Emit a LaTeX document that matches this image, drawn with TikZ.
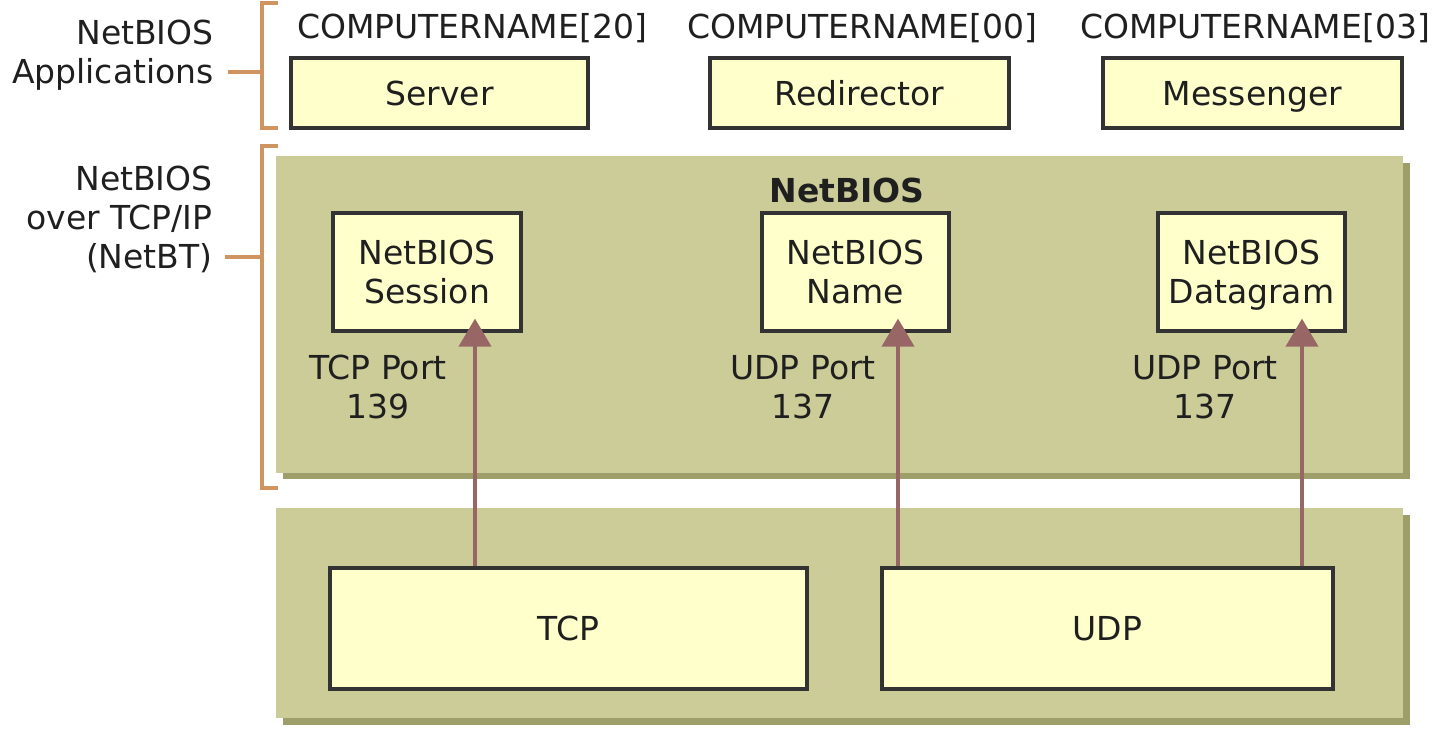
\documentclass[tikz,border=0pt]{standalone}
\usepackage{fontspec}
\setmainfont{DejaVu Sans}
\usetikzlibrary{arrows.meta}
\definecolor{panel}{HTML}{CCCC99}
\definecolor{pshadow}{HTML}{9E9E6A}
\definecolor{boxfill}{HTML}{FFFFCC}
\definecolor{boxline}{HTML}{333333}
\definecolor{arrowc}{HTML}{996666}
\definecolor{brack}{HTML}{CF9460}
\tikzset{
  lbl/.style={font=\fontsize{16.5}{19.5}\selectfont, text=black!88, inner sep=0pt},
  ybox/.style={draw=boxline, line width=1.6pt, fill=boxfill, inner sep=0pt, align=center,
     font=\fontsize{16.5}{19.5}\selectfont, text=black!88},
  onebox/.style={ybox, text height=12pt, text depth=0pt},
  panelbox/.style={fill=panel},
  shadowbox/.style={fill=pshadow},
  bracketline/.style={draw=brack, line width=2pt},
  arr/.style={draw=arrowc, line width=2pt, -{Triangle[width=16pt,length=14pt]}, shorten >=-7pt},
}
\begin{document}
\begin{tikzpicture}[x=0.5pt,y=-0.5pt]
\useasboundingbox (0,0) rectangle (1440,740);
% panels with shadows
\fill[shadowbox] (283,163) rectangle (1410,479);
\fill[panelbox] (276,156) rectangle (1403,473);
\fill[shadowbox] (283,515) rectangle (1410,725);
\fill[panelbox] (276,508) rectangle (1403,718);

% brackets
\draw[bracketline] (278,3) -- (262,3) -- (262,128) -- (278,128);
\draw[bracketline] (228,72) -- (262,72);
\draw[bracketline] (278,146) -- (262,146) -- (262,488) -- (278,488);
\draw[bracketline] (225,257) -- (262,257);

% left labels
\node[lbl, anchor=east, align=right] (lapp) at (214,55) {NetBIOS\\Applications};
\node[lbl, anchor=east, align=right] (lnbt) at (213,219) {NetBIOS\\over TCP/IP\\(NetBT)};

% top labels and boxes
\node[lbl] (cn20) at (472,28) {COMPUTERNAME[20]};
\node[lbl] (cn00) at (862,28) {COMPUTERNAME[00]};
\node[lbl] (cn03) at (1255,28) {COMPUTERNAME[03]};
\node[onebox, minimum width=148.5pt, minimum height=35pt] (server) at (439.5,93) {Server};
\node[onebox, minimum width=149.5pt, minimum height=35pt] (redir) at (859.5,93) {Redirector};
\node[onebox, minimum width=149.5pt, minimum height=35pt] (msgr) at (1252.5,93) {Messenger};

% NetBIOS panel
\node[lbl, font=\fontsize{16.5}{19.5}\bfseries\selectfont] (nbtitle) at (847,190) {NetBIOS};
\node[ybox, minimum width=94pt, minimum height=59pt] (session) at (427,272) {NetBIOS\\Session};
\node[ybox, minimum width=93.5pt, minimum height=59pt] (name) at (855.5,272) {NetBIOS\\Name};
\node[ybox, minimum width=93.5pt, minimum height=59pt] (dgram) at (1251.5,272) {NetBIOS\\\smash{Datagram}};
\node[lbl, align=center] (tcpport) at (378,387) {TCP Port\\139};
\node[lbl, align=center] (udpport1) at (803,387) {UDP Port\\137};
\node[lbl, align=center] (udpport2) at (1205,387) {UDP Port\\137};

% transport panel
\node[onebox, minimum width=238.5pt, minimum height=60.5pt] (tcp) at (568.5,628.5) {TCP};
\node[onebox, minimum width=225.5pt, minimum height=60.5pt] (udp) at (1107.5,628.5) {UDP};

% arrows
\coordinate (ax1) at (475,450);
\coordinate (ax2) at (898,450);
\coordinate (ax3) at (1302,450);
\draw[arr] (tcp.north -| ax1) -- (session.south -| ax1);
\draw[arr] (udp.north -| ax2) -- (name.south -| ax2);
\draw[arr] (udp.north -| ax3) -- (dgram.south -| ax3);
\end{tikzpicture}
\end{document}
